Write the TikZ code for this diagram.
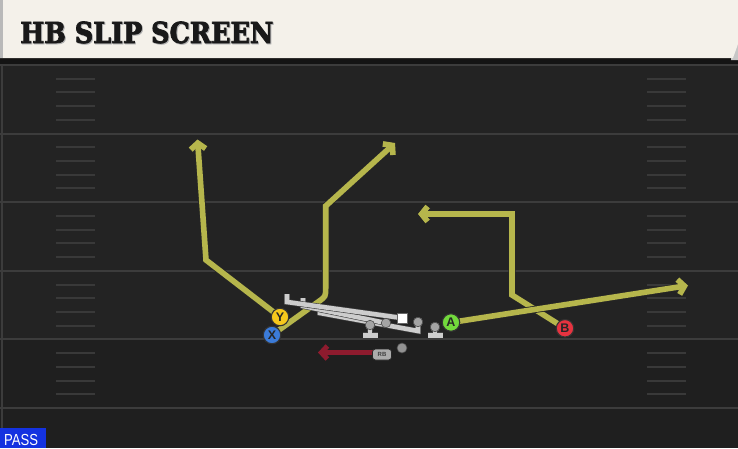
\documentclass[tikz,border=0pt]{standalone}
\usepackage{fontspec}
\setmainfont{Liberation Sans}
\newfontfamily\titlefont[FakeStretch=0.88,FakeBold=2.5]{DejaVu Serif}
\newfontfamily\passfont[FakeStretch=0.82]{Liberation Sans}
\usetikzlibrary{arrows.meta}
\definecolor{fieldc}{HTML}{232323}
\definecolor{fieldlow}{HTML}{1F1F1F}
\definecolor{linec}{HTML}{3C3C3C}
\definecolor{hashc}{HTML}{393939}
\definecolor{headc}{HTML}{F4F1EA}
\definecolor{routec}{HTML}{B6B64C}
\definecolor{olc}{HTML}{CDCDCD}
\definecolor{rbred}{HTML}{8E1B2E}
\definecolor{passblue}{HTML}{1432E0}
\definecolor{ycol}{HTML}{F6C81C}
\definecolor{xcol}{HTML}{3B7BD8}
\definecolor{acol}{HTML}{72D93C}
\definecolor{bcol}{HTML}{E63340}
\tikzset{
  yardline/.style={draw=linec, line width=2pt},
  hashmark/.style={draw=hashc, line width=2pt},
  player/.style={circle, draw=black!80, line width=1.1pt, minimum size=17.5pt, inner sep=0pt,
    font=\bfseries\fontsize{12.5}{12.5}\selectfont, text=black!85},
  route/.style={draw=routec, line width=5.6pt, line join=miter,
    preaction={draw=black!85, line width=7.2pt, line join=miter}},
  routearrow/.style={route, -{Straight Barb[length=6pt,width=15pt]}},
  olbar/.style={draw=olc, line width=4.6pt, line join=miter,
    preaction={draw=black!75, line width=5.8pt, line join=miter}},
  olblock/.style={draw=olc, line width=4.6pt,
    preaction={draw=black!75, line width=5.8pt}, -{Bar[width=15pt]}},
  knob/.style={circle, fill=olc!80!black, draw=black!70, line width=0.6pt, minimum size=9.5pt, inner sep=0pt},
  centerbox/.style={rectangle, fill=white, draw=black!60, line width=0.5pt, minimum size=10pt, inner sep=0pt},
  qbdot/.style={circle, fill=gray!85, draw=black!70, line width=0.6pt, minimum size=10pt, inner sep=0pt},
  rbbox/.style={rectangle, rounded corners=3pt, fill=gray!65, draw=black!85, line width=0.7pt,
    minimum width=19pt, minimum height=11pt, inner sep=0pt,
    font=\bfseries\fontsize{6}{6}\selectfont, text=black!75},
  rbarrow/.style={draw=rbred, line width=5pt, -{Straight Barb[length=6pt,width=13pt]}},
}
\begin{document}
\begin{tikzpicture}[x=1pt,y=-1pt]
\useasboundingbox (0,0) rectangle (738,448);
% field
\fill[fieldc] (0,0) rectangle (738,448);
\fill[fieldlow] (0,340) rectangle (738,448);
\draw[draw=linec, line width=1.2pt] (2,63) -- (2,448);
% yard lines
\foreach \yl in {65,133.6,202.2,270.8,339.4,408}{
  \draw[yardline] (0,\yl) -- (738,\yl);
}
% hash marks
\foreach \yl in {65,133.6,202.2,270.8,339.4}{
  \foreach \k in {1,...,4}{
    \draw[hashmark] (56,{\yl+13.72*\k}) -- (95,{\yl+13.72*\k});
    \draw[hashmark] (647,{\yl+13.72*\k}) -- (686,{\yl+13.72*\k});
  }
}
% header
\fill[black!92] (0,56) rectangle (738,64);
\fill[gray!45] (733,44) -- (738,44) -- (738,60) -- (731,60) -- cycle;
\fill[headc] (0,0) -- (738,0) -- (738,44) -- (733,58) -- (0,58) -- cycle;
\fill[gray!55] (0,0) rectangle (3,58);
\node[anchor=base west, inner sep=0pt, text=gray!60,
  font=\titlefont\bfseries\fontsize{29}{29}\selectfont] (titleshadow) at (21,44) {HB SLIP SCREEN};
\node[anchor=base west, inner sep=0pt, text=black!90,
  font=\titlefont\bfseries\fontsize{29}{29}\selectfont] (title) at (20,43) {HB SLIP SCREEN};

% route corner coordinates
\coordinate (y1) at (206,260);
\coordinate (y2) at (197.5,139.5);
\coordinate (x1) at (325.7,296.5);
\coordinate (x1a) at (318.4,301.7);
\coordinate (x1b) at (325.7,287.5);
\coordinate (x2) at (325.7,206);
\coordinate (x3) at (395,143);
\coordinate (a1) at (688,285.5);
\coordinate (b1) at (512,295);
\coordinate (b2) at (512,214);
\coordinate (b3) at (418,214);

% players (positions)
\coordinate (Ypos) at (280,317);
\coordinate (Xpos) at (272,335);
\coordinate (Apos) at (451,322.5);
\coordinate (Bpos) at (565,328.3);

% routes
\draw[routearrow] (Bpos) -- (b1) -- (b2) -- (b3);
\draw[routearrow] (Apos) -- (a1);
\draw[routearrow] (Ypos) -- (y1) -- (y2);
\draw[routearrow] (Xpos) -- (x1a) .. controls (x1) .. (x1b) -- (x2) -- (x3);

% offensive line
\coordinate (t1) at (287,302);
\coordinate (t2) at (303,306);
\coordinate (t3) at (320,313);
\coordinate (k4low) at (418,331);
\coordinate (g1base) at (370,338);
\coordinate (g5base) at (435,338);
\node[knob] (g1) at (370,325) {};
\node[knob] (g2) at (386,323) {};
\node[centerbox] (c) at (402,318) {};
\node[knob] (g4) at (418,322) {};
\node[knob] (g5) at (435,327) {};
\draw[olbar] (g4.center) -- (k4low) -- (t3) -- ++(0,-8);
\draw[olbar] (g2.center) -- (t2) -- ++(0,-8);
\draw[olbar] (c.center) -- (t1) -- ++(0,-8);
\draw[olblock] (g1.center) -- (g1base);
\draw[olblock] (g5.center) -- (g5base);
\node[knob] at (g1) {};
\node[knob] at (g2) {};
\node[knob] at (g4) {};
\node[knob] at (g5) {};
\node[centerbox] at (c) {};

% QB and RB
\node[qbdot] (qb) at (402,348) {};
\coordinate (rbend) at (318,352.5);
\draw[rbarrow] ([yshift=2pt]374,354.5) -- (rbend);
\node[rbbox] (rb) at (382,354.5) {RB};

% player circles
\node[player, fill=ycol] (Y) at (Ypos) {Y};
\node[player, fill=xcol] (X) at (Xpos) {X};
\node[player, fill=acol] (A) at (Apos) {A};
\node[player, fill=bcol] (B) at (Bpos) {B};

% PASS label
\fill[passblue] (0,428) rectangle (46,448);
\node[anchor=base west, inner sep=0pt, text=white,
  font=\passfont\fontsize{16}{16}\selectfont] (pass) at (4,445) {PASS};
\end{tikzpicture}
\end{document}
